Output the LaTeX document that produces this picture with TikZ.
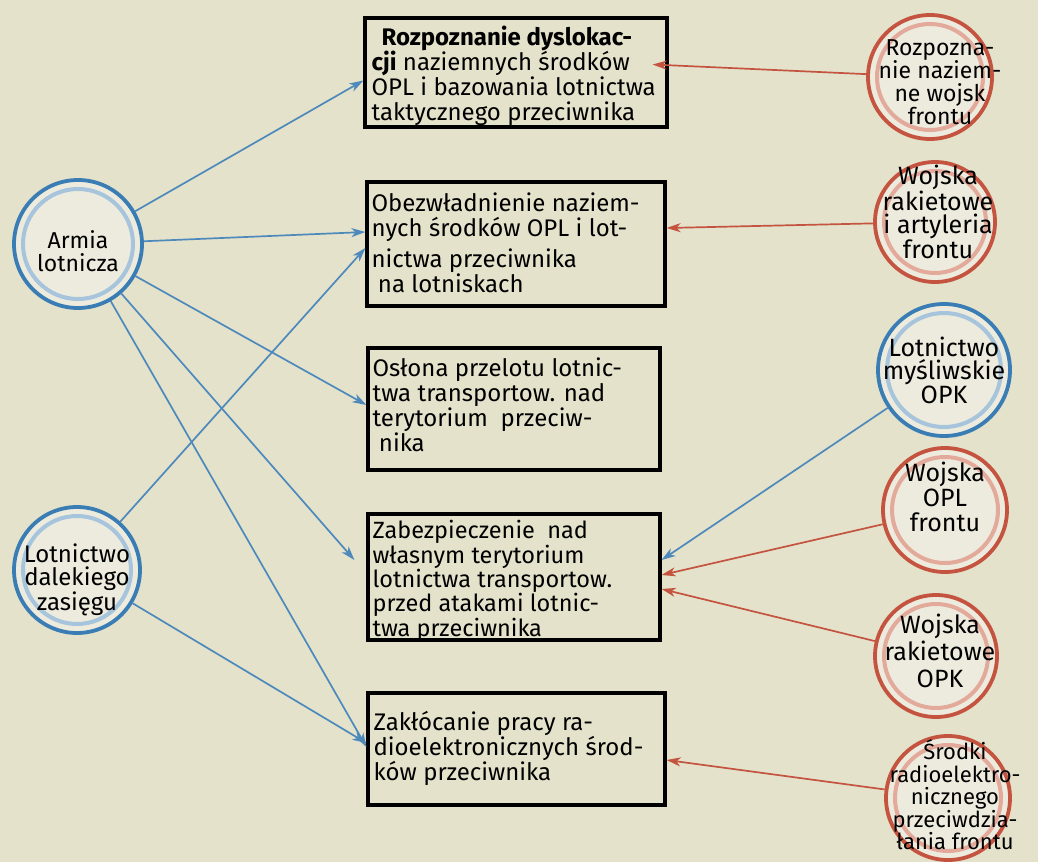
\documentclass[tikz,border=0pt]{standalone}
\usepackage{fontspec}
\setmainfont{Fira Sans}
\usetikzlibrary{arrows.meta}
\definecolor{bg}{HTML}{E4E2CB}
\definecolor{paler}{HTML}{ECEBDD}
\definecolor{pblue}{HTML}{3A7CB4}
\definecolor{lblue}{HTML}{A6C4DC}
\definecolor{pred}{HTML}{C4533F}
\definecolor{lred}{HTML}{E3AA9B}
\begin{document}
\begin{tikzpicture}[x=1pt,y=-1pt,
  box/.style={draw=black, line width=3.2pt, rectangle, inner sep=0pt},
  btext/.style={anchor=north west, align=left, inner sep=0pt, font=\fontsize{24}{25}\selectfont},
  bluering/.style={circle, draw=pblue, line width=3.8pt, fill=paler, inner sep=0pt},
  redring/.style={circle, draw=pred, line width=3.8pt, fill=paler, inner sep=0pt},
  blueinner/.style={draw=lblue, line width=4pt},
  redinner/.style={draw=lred, line width=4pt},
  ctext/.style={align=center, inner sep=0pt, font=\fontsize{25}{23.5}\selectfont},
  conn/.style={line width=1.7pt, -{Stealth[length=14pt,width=9pt,inset=4pt]}},
  bconn/.style={conn, draw=pblue!90!white, fill=pblue!90!white},
  rconn/.style={conn, draw=pred, fill=pred}]
\fill[bg] (0,0) rectangle (1038,862);
\useasboundingbox (0,0) rectangle (1038,862);

% boxes
\node[box, minimum width=302pt, minimum height=109pt] (B1) at (516,72.5) {};
\node[btext] (B1t) at ([xshift=8pt,yshift=-9pt]B1.north west)
  {\hspace*{10pt}\textbf{Rozpoznanie dyslokac-}\\\textbf{cji} naziemnych środków\\OPL i bazowania lotnictwa\\taktycznego przeciwnika};
\node[box, minimum width=298pt, minimum height=124pt] (B2) at (516,244) {};
\node[btext] (B2t) at ([xshift=6pt,yshift=-12pt]B2.north west)
  {Obezwładnienie naziem-\\nych środków OPL i lot-\\[6pt]nictwa przeciwnika\\\ na lotniskach};
\node[box, minimum width=292pt, minimum height=122pt] (B3) at (514,409) {};
\node[btext] (B3t) at ([xshift=6pt,yshift=-11pt]B3.north west)
  {Osłona przelotu lotnic-\\twa transportow. nad\\terytorium \ przeciw-\\\ nika};
\node[box, minimum width=292pt, minimum height=126pt] (B4) at (514,577) {};
\node[btext, font=\fontsize{23.5}{22}\selectfont] (B4t) at ([xshift=6pt,yshift=-8pt]B4.north west)
  {Zabezpieczenie \ nad\\własnym terytorium\\lotnictwa transportow.\\przed atakami lotnic-\\twa przeciwnika};
\node[box, minimum width=297pt, minimum height=112pt] (B5) at (516.5,749) {};
\node[btext] (B5t) at ([xshift=7pt,yshift=-20pt]B5.north west)
  {Zakłócanie pracy ra-\\dioelektronicznych środ-\\ków przeciwnika};

% left circles
\node[bluering, minimum size=128pt] (A) at (78,244) {};
\draw[blueinner] (A.center) circle[radius=55];
\node[ctext, font=\fontsize{23}{23}\selectfont] (At) at (78,251) {Armia\\lotnicza};
\node[bluering, minimum size=126pt] (D) at (77,570) {};
\draw[blueinner] (D.center) circle[radius=54];
\node[ctext, font=\fontsize{24}{23}\selectfont] (Dt) at (77,580) {Lotnictwo\\dalekiego\\zasięgu};

% right circles
\node[redring, minimum size=124pt] (R1) at (930,77) {};
\draw[redinner] (R1.center) circle[radius=53];
\node[ctext, font=\fontsize{23}{23}\selectfont] (R1t) at (940,82) {Rozpozna-\\nie naziem-\\ne wojsk\\frontu};
\node[redring, minimum size=120pt] (R2) at (935,222) {};
\draw[redinner] (R2.center) circle[radius=51];
\node[ctext] (R2t) at (938,212) {Wojska\\rakietowe\\i artyleria\\frontu};
\node[bluering, minimum size=132pt] (R3) at (944,370) {};
\draw[blueinner] (R3.center) circle[radius=57];
\node[ctext] (R3t) at (944,370) {Lotnictwo\\myśliwskie\\OPK};
\node[redring, minimum size=124pt] (R4) at (945,510) {};
\draw[redinner] (R4.center) circle[radius=53];
\node[ctext, font=\fontsize{25}{25}\selectfont] (R4t) at (945,497) {Wojska\\OPL\\frontu};
\node[redring, minimum size=122pt] (R5) at (936,656) {};
\draw[redinner] (R5.center) circle[radius=52];
\node[ctext, font=\fontsize{25}{27}\selectfont] (R5t) at (940,651) {Wojska\\rakietowe\\OPK};
\node[redring, minimum size=124pt] (R6) at (948,798) {};
\draw[redinner] (R6.center) circle[radius=53];
\node[ctext, font=\fontsize{22}{22.5}\selectfont] (R6t) at (955,795) {Środki\\radioelektro-\\nicznego\\przeciwdzia-\\łania frontu};

% blue connectors from the left
\draw[bconn] (A) -- ([yshift=-8pt]B1.west);
\draw[bconn] (A) -- ([yshift=12pt]B2.west);
\draw[bconn] (A) -- ([yshift=4pt]B3.west);
\draw[bconn] (A) -- ([xshift=-12pt,yshift=17pt]B4.west);
\draw[bconn] (A) -- ([yshift=2pt]B5.west);
\draw[bconn] (D) -- ([yshift=-4pt]B2.west);
\draw[bconn] (D) -- ([yshift=6pt]B5.west);

% connectors from the right
\draw[rconn] (R1) -- ([xshift=-16pt,yshift=8pt]B1.east);
\draw[rconn] (R2) -- ([yshift=16pt]B2.east);
\draw[bconn] (R3) -- ([yshift=17pt]B4.east);
\draw[rconn] (R4) -- ([yshift=2pt]B4.east);
\draw[rconn] (R5) -- ([yshift=-12pt]B4.east);
\draw[rconn] (R6) -- ([yshift=-11pt]B5.east);
\end{tikzpicture}
\end{document}
